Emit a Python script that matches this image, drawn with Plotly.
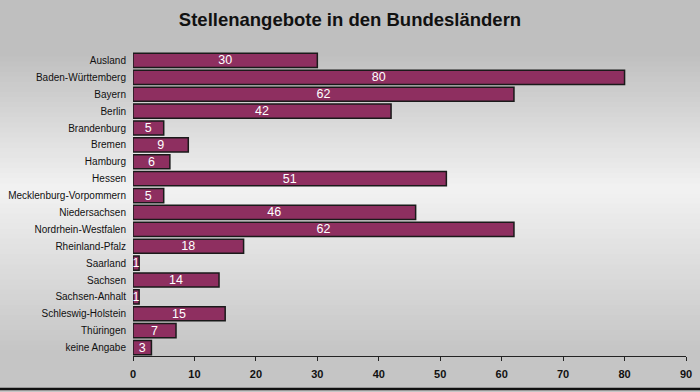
import plotly.graph_objects as go

categories = ["Ausland", "Baden-Württemberg", "Bayern", "Berlin", "Brandenburg", "Bremen",
              "Hamburg", "Hessen", "Mecklenburg-Vorpommern", "Niedersachsen", "Nordrhein-Westfalen",
              "Rheinland-Pfalz", "Saarland", "Sachsen", "Sachsen-Anhalt", "Schleswig-Holstein",
              "Thüringen", "keine Angabe"]
values = [30, 80, 62, 42, 5, 9, 6, 51, 5, 46, 62, 18, 1, 14, 1, 15, 7, 3]
x_ticks = [0, 10, 20, 30, 40, 50, 60, 70, 80, 90]

fig = go.Figure()
fig.add_trace(go.Bar(
    y=categories, x=values, orientation="h",
    marker=dict(color="#8e2f60", line=dict(color="#1a1a1a", width=1.5)),
    text=[str(v) for v in values], textposition="inside", insidetextanchor="middle",
    textangle=0,
    textfont=dict(family="Liberation Sans, Arial", size=12.5, color="white"),
    constraintext="none", cliponaxis=False,
))

# background vertical gradient (gray -> light -> gray)
shapes = []
n = 60
def shade(t):
    if t < 0.45:
        v = 190 + (242 - 190) * (t / 0.45)
    else:
        v = 242 - (242 - 196) * ((t - 0.45) / 0.55)
    v = int(round(v))
    return f"rgb({v},{v},{v})"
for i in range(n):
    t0 = i / n
    t1 = (i + 1) / n
    shapes.append(dict(type="rect", xref="paper", yref="paper", x0=-1, x1=2,
                       y0=(1 - t1 - 0.002) if i < n - 1 else -1, y1=(1 - t0 + 0.002) if i else 5,
                       fillcolor=shade((t0 + t1) / 2), line=dict(width=0), layer="below"))
# bottom frame line
shapes.append(dict(type="line", xref="paper", yref="paper", x0=-1, x1=2,
                   y0=-33 / 304, y1=-33 / 304, line=dict(color="#111", width=2.5)))

fig.update_layout(
    width=700, height=392,
    margin=dict(l=133, r=14, t=52, b=36),
    paper_bgcolor="#c8c8c8", plot_bgcolor="rgba(0,0,0,0)",
    shapes=shapes,
    title=dict(text="<b>Stellenangebote in den Bundesländern</b>", x=0.5, xanchor="center",
               xref="container", yref="container", y=1 - 20 / 392, yanchor="middle",
               font=dict(family="Liberation Sans, Arial", size=18.5, color="#111")),
    bargap=0.16,
    showlegend=False,
    uniformtext=dict(minsize=12.5, mode="show"),
    xaxis=dict(range=[0, 90], tickvals=x_ticks, ticks="outside", ticklen=4, tickcolor="#222",
               showgrid=False, zeroline=False, showline=True, linecolor="#222", linewidth=1,
               automargin=False, ticklabelstandoff=4,
               tickfont=dict(family="Liberation Sans, Arial", size=11, color="#111", weight="bold")),
    yaxis=dict(autorange="reversed", showgrid=False, zeroline=False, showline=False,
               ticks="", ticklabelstandoff=6, automargin=False,
               tickfont=dict(family="Liberation Sans, Arial", size=10, color="#111")),
)
fig.write_html("out.html", config={"displayModeBar": False},
               post_script="document.body.style.margin='0';document.body.style.overflow='hidden';")
